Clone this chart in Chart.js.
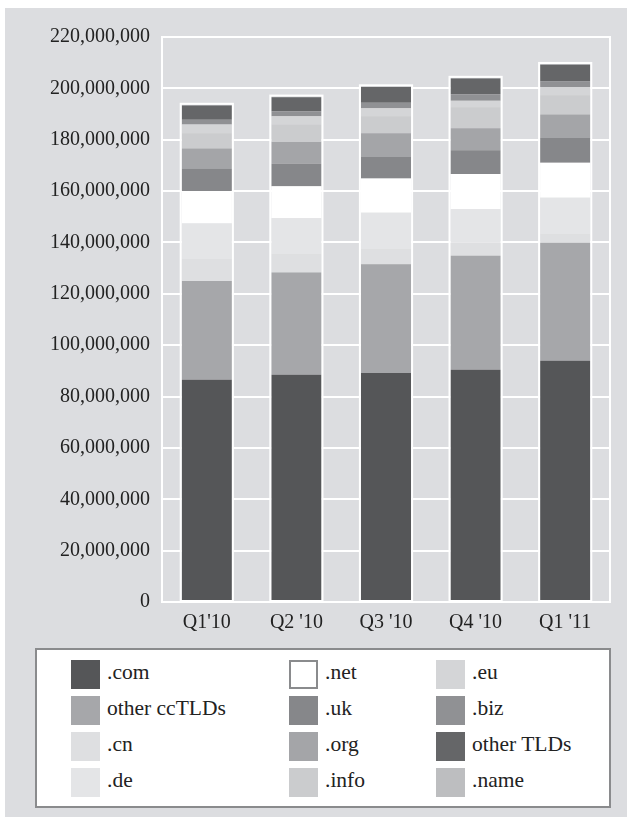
<!DOCTYPE html>
<html>
<head>
<meta charset="utf-8">
<script src="https://cdn.jsdelivr.net/npm/chart.js@4/dist/chart.umd.min.js"></script>
<style>
  html, body { margin: 0; padding: 0; background: #fff; }
  body { width: 637px; height: 820px; position: relative; overflow: hidden; font-family: "Liberation Serif", "DejaVu Serif", serif; }
  #panel { position: absolute; left: 5px; top: 8px; width: 622px; height: 809px; background: #dcdde0; }
  #wrap { position: absolute; left: 0; top: 0; width: 622px; height: 640px; }
  #legend {
    position: absolute; left: 30px; top: 640px; width: 576px; height: 160px;
    background: #fff; border: 2px solid #8a8b8d;
    display: grid; grid-auto-flow: column;
    grid-template-rows: repeat(4, 36px);
    grid-template-columns: 218px 147px auto;
    padding: 10px 0 0 34px; box-sizing: border-box;
  }
  .item { display: flex; align-items: center; height: 29px; font-size: 21.5px; color: #222; }
  .box { width: 29px; height: 29px; margin-right: 7px; box-sizing: border-box; flex: none; }
  .item span { position: relative; top: -2px; }
</style>
</head>
<body>
<div id="panel">
  <div id="wrap"><canvas id="chart"></canvas></div>
  <div id="legend"></div>
</div>
<script>
// quarterly domain registrations, in millions
const quarters = ["Q1'10", "Q2 '10", "Q3 '10", "Q4 '10", "Q1 '11"];

const com       = [86.5, 88.5, 89.2, 90.4, 93.9];
const otherCc   = [38.5, 39.8, 42.3, 44.4, 46.0];
const cn        = [8.6, 7.1, 5.9, 5.1, 3.3];
const de        = [13.8, 14.0, 14.2, 13.0, 14.2];
const net       = [12.6, 12.5, 13.3, 13.8, 13.6];
const uk        = [8.8, 8.7, 8.4, 9.2, 9.7];
const org       = [7.8, 8.5, 9.2, 8.6, 9.1];
const info      = [5.9, 6.8, 6.6, 8.1, 7.5];
const eu        = [3.4, 3.2, 3.2, 2.6, 3.2];
const biz       = [1.9, 2.0, 2.1, 2.5, 2.2];
const otherTlds = [5.5, 5.4, 6.1, 6.1, 6.5];
const name      = [0.3, 0.3, 0.3, 0.3, 0.3];

const yTicks = [0, 20, 40, 60, 80, 100, 120, 140, 160, 180, 200, 220];

const series = [
  { label: ".com", values: com, color: "#555658" },
  { label: "other ccTLDs", values: otherCc, color: "#a6a7aa" },
  { label: ".cn", values: cn, color: "#dedfe1" },
  { label: ".de", values: de, color: "#e4e5e7" },
  { label: ".net", values: net, color: "#ffffff", edge: "#8a8b8d" },
  { label: ".uk", values: uk, color: "#86878a" },
  { label: ".org", values: org, color: "#a4a5a8" },
  { label: ".info", values: info, color: "#cbccce" },
  { label: ".eu", values: eu, color: "#d4d5d7" },
  { label: ".biz", values: biz, color: "#909194" },
  { label: "other TLDs", values: otherTlds, color: "#656668" },
  { label: ".name", values: name, color: "#bdbec0" }
];

const font = { family: "'Liberation Serif', 'DejaVu Serif', serif", size: 20 };

// white frame around the plot area and around each stacked column
const outlines = {
  id: "outlines",
  beforeDatasetsDraw(chart) {
    const { ctx, chartArea: a } = chart;
    ctx.save();
    ctx.strokeStyle = "#fff";
    ctx.lineWidth = 2;
    ctx.strokeRect(a.left, a.top, a.right - a.left, a.bottom - a.top);
    ctx.restore();
  },
  afterDatasetsDraw(chart) {
    const { ctx } = chart;
    const first = chart.getDatasetMeta(0).data;
    const last = chart.getDatasetMeta(chart.data.datasets.length - 1).data;
    ctx.save();
    ctx.strokeStyle = "#fff";
    ctx.lineWidth = 2;
    first.forEach((bar, i) => {
      const x = bar.x - bar.width / 2 - 1;
      const top = last[i].y - 1;
      ctx.strokeRect(x, top, bar.width + 2, bar.base - top);
    });
    ctx.restore();
  }
};

const chart = new Chart(document.getElementById("chart"), {
  type: "bar",
  data: {
    labels: quarters,
    datasets: series.map(s => ({
      label: s.label,
      data: s.values.map(v => v * 1e6),
      backgroundColor: s.color,
      borderWidth: 0,
      categoryPercentage: 1,
      barPercentage: 0.56
    }))
  },
  options: {
    responsive: true,
    maintainAspectRatio: false,
    animation: false,
    layout: { padding: { top: 29, right: 17, bottom: 0, left: 0 } },
    plugins: { legend: { display: false }, tooltip: { enabled: false } },
    scales: {
      x: {
        stacked: true,
        afterFit(scale) { scale.height = 46; },
        grid: { display: false, drawTicks: false },
        border: { display: true, color: "#fff", width: 2 },
        ticks: { color: "#222", font, padding: 9 }
      },
      y: {
        stacked: true,
        min: 0,
        max: 220e6,
        afterFit(scale) { scale.width = 157; },
        afterBuildTicks(scale) { scale.ticks = yTicks.map(v => ({ value: v * 1e6 })); },
        grid: { color: "#fff", lineWidth: 2, drawTicks: false },
        border: { display: true, color: "#fff", width: 2 },
        ticks: {
          color: "#222", font, padding: 12,
          callback: v => v.toLocaleString("en-US")
        }
      }
    }
  },
  plugins: [outlines]
});

// three-column legend, filled column by column
const legend = document.getElementById("legend");
chart.data.datasets.forEach((ds, i) => {
  const item = document.createElement("div");
  item.className = "item";
  const box = document.createElement("div");
  box.className = "box";
  box.style.background = ds.backgroundColor;
  if (series[i].edge) box.style.border = "2px solid " + series[i].edge;
  const text = document.createElement("span");
  text.textContent = ds.label;
  item.append(box, text);
  legend.appendChild(item);
});
</script>
</body>
</html>
